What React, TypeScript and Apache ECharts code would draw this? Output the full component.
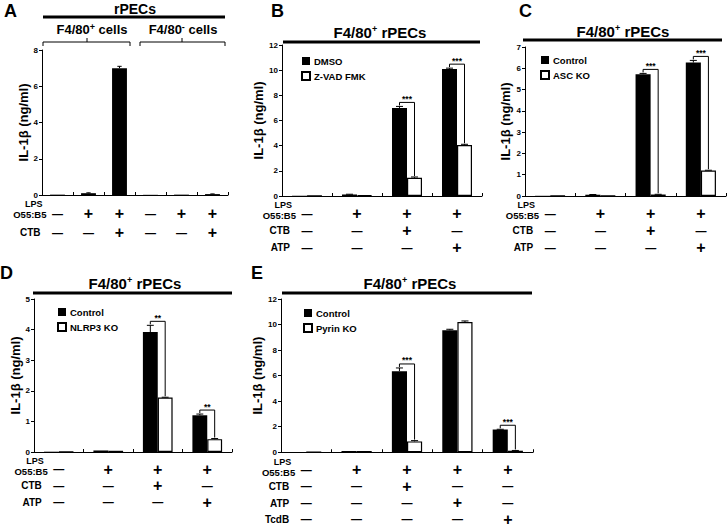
import React, { useEffect, useRef } from 'react';
import * as echarts from 'echarts';

const FONT = '"Liberation Sans", Arial, Helvetica, sans-serif';
const Y_NAME = 'IL-1β (ng/ml)';

// ---------------- Panel A ----------------
const A_LPS = ['−', '+', '+', '−', '+', '+'];
const A_CTB = ['−', '−', '+', '−', '−', '+'];
const A_values = [0.02, 0.1, 7.0, 0.01, 0.02, 0.05];
const A_errors = [0, 0.02, 0.1, 0, 0, 0.01];
const A_yMax = 8;
const A_yStep = 2;

// ---------------- Panel B ----------------
const B_LPS = ['−', '+', '+', '+'];
const B_CTB = ['−', '−', '+', '−'];
const B_ATP = ['−', '−', '−', '+'];
const B_dmso = [0.02, 0.12, 7.0, 10.1];
const B_dmsoErr = [0, 0.02, 0.12, 0.06];
const B_zvad = [0.01, 0.06, 1.45, 4.05];
const B_zvadErr = [0, 0, 0.06, 0.06];
const B_sigCats = [2, 3];
const B_sigText = ['***', '***'];
const B_yMax = 12;
const B_yStep = 2;

// ---------------- Panel C ----------------
const C_LPS = ['−', '+', '+', '+'];
const C_CTB = ['−', '−', '+', '−'];
const C_ATP = ['−', '−', '−', '+'];
const C_ctrl = [0.01, 0.06, 5.72, 6.27];
const C_ctrlErr = [0, 0.01, 0.04, 0.1];
const C_ko = [0.01, 0.01, 0.07, 1.2];
const C_koErr = [0, 0, 0.01, 0.01];
const C_sigCats = [2, 3];
const C_sigText = ['***', '***'];
const C_yMax = 7;
const C_yStep = 1;

// ---------------- Panel D ----------------
const D_LPS = ['−', '+', '+', '+'];
const D_CTB = ['−', '−', '+', '−'];
const D_ATP = ['−', '−', '−', '+'];
const D_ctrl = [0.01, 0.05, 3.92, 1.2];
const D_ctrlErr = [0, 0, 0.22, 0.04];
const D_ko = [0.01, 0.04, 1.78, 0.42];
const D_koErr = [0, 0, 0.01, 0.02];
const D_sigCats = [2, 3];
const D_sigText = ['**', '**'];
const D_yMax = 5;
const D_yStep = 1;

// ---------------- Panel E ----------------
const E_LPS = ['−', '+', '+', '+', '+'];
const E_CTB = ['−', '−', '+', '−', '−'];
const E_ATP = ['−', '−', '−', '+', '−'];
const E_TcdB = ['−', '−', '−', '−', '+'];
const E_ctrl = [0.02, 0.1, 6.35, 9.55, 1.78];
const E_ctrlErr = [0, 0, 0.25, 0.08, 0.02];
const E_ko = [0.01, 0.1, 0.85, 10.2, 0.12];
const E_koErr = [0, 0, 0.06, 0.08, 0.02];
const E_sigCats = [2, 4];
const E_sigText = ['***', '***'];
const E_yMax = 12;
const E_yStep = 2;

type SeriesDef = { name: string; values: number[]; errors: number[]; white: boolean };
type PanelDef = {
  rows: { name: string; signs: string[] }[];
  series: SeriesDef[];
  sigCats: number[];
  sigText: string[];
  yMax: number;
  yStep: number;
};

const PANELS: PanelDef[] = [
  {
    rows: [{ name: 'LPS', signs: A_LPS }, { name: 'CTB', signs: A_CTB }],
    series: [{ name: 'A', values: A_values, errors: A_errors, white: false }],
    sigCats: [], sigText: [], yMax: A_yMax, yStep: A_yStep,
  },
  {
    rows: [{ name: 'LPS', signs: B_LPS }, { name: 'CTB', signs: B_CTB }, { name: 'ATP', signs: B_ATP }],
    series: [
      { name: 'DMSO', values: B_dmso, errors: B_dmsoErr, white: false },
      { name: 'Z-VAD FMK', values: B_zvad, errors: B_zvadErr, white: true },
    ],
    sigCats: B_sigCats, sigText: B_sigText, yMax: B_yMax, yStep: B_yStep,
  },
  {
    rows: [{ name: 'LPS', signs: C_LPS }, { name: 'CTB', signs: C_CTB }, { name: 'ATP', signs: C_ATP }],
    series: [
      { name: 'Control', values: C_ctrl, errors: C_ctrlErr, white: false },
      { name: 'ASC KO', values: C_ko, errors: C_koErr, white: true },
    ],
    sigCats: C_sigCats, sigText: C_sigText, yMax: C_yMax, yStep: C_yStep,
  },
  {
    rows: [{ name: 'LPS', signs: D_LPS }, { name: 'CTB', signs: D_CTB }, { name: 'ATP', signs: D_ATP }],
    series: [
      { name: 'Control', values: D_ctrl, errors: D_ctrlErr, white: false },
      { name: 'NLRP3 KO', values: D_ko, errors: D_koErr, white: true },
    ],
    sigCats: D_sigCats, sigText: D_sigText, yMax: D_yMax, yStep: D_yStep,
  },
  {
    rows: [
      { name: 'LPS', signs: E_LPS }, { name: 'CTB', signs: E_CTB },
      { name: 'ATP', signs: E_ATP }, { name: 'TcdB', signs: E_TcdB },
    ],
    series: [
      { name: 'Control', values: E_ctrl, errors: E_ctrlErr, white: false },
      { name: 'Pyrin KO', values: E_ko, errors: E_koErr, white: true },
    ],
    sigCats: E_sigCats, sigText: E_sigText, yMax: E_yMax, yStep: E_yStep,
  },
];

// ---------------- Layout (pixels) ----------------
const LAYOUT = [
  { grid: { left: 42, top: 50, width: 186, height: 145 }, nameGap: 10, barFrac: 0.48, rowLH: 19, legend: null as null | { left: number; top: number } },
  { grid: { left: 282, top: 45, width: 200, height: 151 }, nameGap: 12, barFrac: 0.3, rowLH: 17, legend: { left: 301, top: 56 } },
  { grid: { left: 525, top: 47, width: 201, height: 149 }, nameGap: 13, barFrac: 0.3, rowLH: 17, legend: { left: 540, top: 55 } },
  { grid: { left: 34, top: 299, width: 198, height: 153 }, nameGap: 10, barFrac: 0.3, rowLH: 16.5, legend: { left: 57, top: 307 } },
  { grid: { left: 281, top: 299, width: 252, height: 154 }, nameGap: 10, barFrac: 0.3, rowLH: 16.5, legend: { left: 303, top: 308 } },
];
const LABEL_MARGIN = 9;

function txt(x: number, y: number, text: string, size: number, align = 'center', vAlign = 'middle', rich?: any) {
  const style: any = {
    text, fill: '#000', fontSize: size, fontWeight: 'bold', fontFamily: FONT,
    align, verticalAlign: vAlign, textAlign: align, textVerticalAlign: vAlign,
  };
  if (rich) style.rich = rich;
  return { type: 'text', x, y, silent: true, style };
}

function line(points: number[][], width = 1) {
  return { type: 'polyline', silent: true, shape: { points }, style: { stroke: '#000', lineWidth: width, fill: null } };
}

const supRich = (size: number) => ({
  n: { fontSize: size, fontWeight: 'bold', fontFamily: FONT, fill: '#000' },
  s: { fontSize: 9, fontWeight: 'bold', fontFamily: FONT, fill: '#000', verticalAlign: 'top' },
});

function buildOption() {
  const grid: any[] = [];
  const xAxis: any[] = [];
  const yAxis: any[] = [];
  const series: any[] = [];
  const legend: any[] = [];
  const graphic: any[] = [];

  PANELS.forEach((p, i) => {
    const L = LAYOUT[i];
    const nCat = p.rows[0].signs.length;
    grid.push({ ...L.grid });
    xAxis.push({
      type: 'category', gridIndex: i,
      data: p.rows[0].signs.map((_, k) => String(k)),
      axisLine: { show: true, lineStyle: { color: '#000', width: 1 } },
      axisTick: { show: true, inside: true, length: 3, lineStyle: { color: '#000', width: 1 } },
      splitLine: { show: false },
      axisLabel: {
        interval: 0, margin: LABEL_MARGIN, color: '#000',
        formatter: (_v: string, idx: number) =>
          p.rows.map((r) => (r.signs[idx] === '+' ? '{p|+}' : '{m|—}')).join('\n'),
        rich: {
          p: { fontSize: 16, fontWeight: 'bold', fontFamily: FONT, lineHeight: L.rowLH, color: '#000' },
          m: { fontSize: 11, fontWeight: 'bold', fontFamily: FONT, lineHeight: L.rowLH, color: '#000' },
        },
      },
    });
    yAxis.push({
      type: 'value', gridIndex: i, min: 0, max: p.yMax, interval: p.yStep,
      splitLine: { show: false },
      axisLine: { show: true, lineStyle: { color: '#000', width: 1 } },
      axisTick: { show: true, length: 3, lineStyle: { color: '#000', width: 1 } },
      axisLabel: { fontSize: 8, fontWeight: 'bold', color: '#000', margin: 4, fontFamily: FONT },
      name: Y_NAME, nameLocation: 'middle', nameGap: L.nameGap,
      nameTextStyle: { fontSize: 13, fontWeight: 'bold', color: '#000', fontFamily: FONT },
    });

    const nS = p.series.length;
    const half = L.barFrac / 2;
    p.series.forEach((s) => {
      series.push({
        type: 'bar', name: s.name, xAxisIndex: i, yAxisIndex: i, data: s.values,
        barWidth: Math.round(L.barFrac * 100) + '%', barGap: '0%', silent: true,
        itemStyle: s.white
          ? { color: '#fff', borderColor: '#000', borderWidth: 1.2 }
          : { color: '#000', borderColor: '#000', borderWidth: 0 },
      });
    });

    // error bars
    const errData: number[][] = [];
    p.series.forEach((s, si) => {
      const side = nS === 1 ? 0 : si === 0 ? -1 : 1;
      s.values.forEach((v, c) => errData.push([c, v, s.errors[c], side]));
    });
    series.push({
      type: 'custom', xAxisIndex: i, yAxisIndex: i, silent: true, clip: false, z: 5,
      data: errData,
      renderItem: (_params: any, api: any) => {
        const c = api.value(0), v = api.value(1), e = api.value(2), side = api.value(3);
        if (!(e > 0)) return { type: 'group', children: [] };
        const band = api.size([1, 0])[0];
        const base = api.coord([c, v]);
        const x = base[0] + side * half * band;
        const y1 = api.coord([c, v + e])[1];
        const cap = band * 0.07;
        return {
          type: 'group',
          children: [
            { type: 'line', shape: { x1: x, y1: base[1], x2: x, y2: y1 }, style: { stroke: '#000', lineWidth: 1 } },
            { type: 'line', shape: { x1: x - cap, y1, x2: x + cap, y2: y1 }, style: { stroke: '#000', lineWidth: 1 } },
          ],
        };
      },
    });

    // significance brackets
    if (p.sigCats.length) {
      const s0 = p.series[0], s1 = p.series[1];
      const sigData = p.sigCats.map((c) => [c, s0.values[c] + s0.errors[c], s1.values[c] + s1.errors[c]]);
      const texts = p.sigText;
      series.push({
        type: 'custom', xAxisIndex: i, yAxisIndex: i, silent: true, clip: false, z: 6,
        data: sigData,
        renderItem: (params: any, api: any) => {
          const c = api.value(0), vb = api.value(1), vw = api.value(2);
          const band = api.size([1, 0])[0];
          const cx = api.coord([c, 0])[0];
          const xb = cx - half * band, xw = cx + half * band;
          const yb = api.coord([c, vb])[1], yw = api.coord([c, vw])[1];
          const yh = yb - 4;
          return {
            type: 'group',
            children: [
              { type: 'polyline', shape: { points: [[xb, yb - 1], [xb, yh], [xw, yh], [xw, yw - 1]] }, style: { stroke: '#000', lineWidth: 1, fill: null } },
              {
                type: 'text', x: (xb + xw) / 2, y: yh + 1,
                style: {
                  text: texts[params.dataIndex], fill: '#000', fontSize: 8.5, fontWeight: 'bold', fontFamily: FONT,
                  align: 'center', verticalAlign: 'bottom', textAlign: 'center', textVerticalAlign: 'bottom',
                },
              },
            ],
          };
        },
      });
    }

    if (L.legend) {
      legend.push({
        data: p.series.map((s) => s.name), orient: 'vertical', left: L.legend.left, top: L.legend.top,
        padding: 0, itemWidth: 8, itemHeight: 8, itemGap: 5, icon: 'rect', selectedMode: false,
        textStyle: { fontSize: 9.5, fontWeight: 'bold', color: '#000', fontFamily: FONT, padding: [0, 0, 0, -1] },
      });
    }

    // row labels
    const g = L.grid;
    const yA = g.top + g.height;
    const cx0 = g.left + g.width / nCat / 2;
    const rowY = (k: number) => yA + LABEL_MARGIN + L.rowLH / 2 + k * L.rowLH;
    graphic.push(txt(cx0 - 15, yA + 9, 'LPS', 9, 'right'));
    graphic.push(txt(cx0 - 11, yA + 19.5, 'O55:B5', 9.5, 'right'));
    p.rows.slice(1).forEach((r, k) => graphic.push(txt(cx0 - 17, rowY(k + 1), r.name, 10, 'right')));
  });

  // panel letters
  graphic.push(txt(4, 2, 'A', 18, 'left', 'top'));
  graphic.push(txt(271, 2, 'B', 18, 'left', 'top'));
  graphic.push(txt(519, 2, 'C', 18, 'left', 'top'));
  graphic.push(txt(0, 264, 'D', 18, 'left', 'top'));
  graphic.push(txt(251, 264, 'E', 18, 'left', 'top'));

  // Panel A header
  graphic.push(txt(135, 9, 'rPECs', 14));
  graphic.push(line([[43, 17], [225, 17]], 3));
  graphic.push(txt(92, 29, '{n|F4/80}{s|+}{n| cells}', 13, 'center', 'middle', supRich(13)));
  graphic.push(txt(183, 29, '{n|F4/80}{s|-}{n| cells}', 13, 'center', 'middle', supRich(13)));
  graphic.push(line([[43, 46], [43, 42], [130, 42], [130, 46]]));
  graphic.push(line([[87, 42], [87, 38]]));
  graphic.push(line([[140, 46], [140, 42], [225, 42], [225, 46]]));
  graphic.push(line([[182, 42], [182, 38]]));

  // Panel B-E headers
  const title = '{n|F4/80}{s|+}{n| rPECs}';
  graphic.push(txt(380, 32, title, 15, 'center', 'middle', supRich(15)));
  graphic.push(line([[283, 42], [480, 42]], 3));
  graphic.push(txt(623, 31, title, 15, 'center', 'middle', supRich(15)));
  graphic.push(line([[523, 40], [722, 40]], 3));
  graphic.push(txt(135, 283, title, 15, 'center', 'middle', supRich(15)));
  graphic.push(line([[33, 293], [232, 293]], 3));
  graphic.push(txt(410, 283, title, 15, 'center', 'middle', supRich(15)));
  graphic.push(line([[282, 293], [532, 293]], 3));

  return {
    animation: false,
    backgroundColor: '#fff',
    textStyle: { fontFamily: FONT, color: '#000' },
    grid, xAxis, yAxis, series, legend, graphic,
  };
}

export default function App() {
  const ref = useRef<HTMLDivElement>(null);
  useEffect(() => {
    const chart = echarts.init(ref.current!, null, { renderer: 'svg' });
    chart.setOption(buildOption() as any);
    return () => chart.dispose();
  }, []);
  return (
    <div
      ref={ref}
      style={{ position: 'fixed', left: 0, top: 0, width: 728, height: 527, background: '#fff' }}
    />
  );
}
